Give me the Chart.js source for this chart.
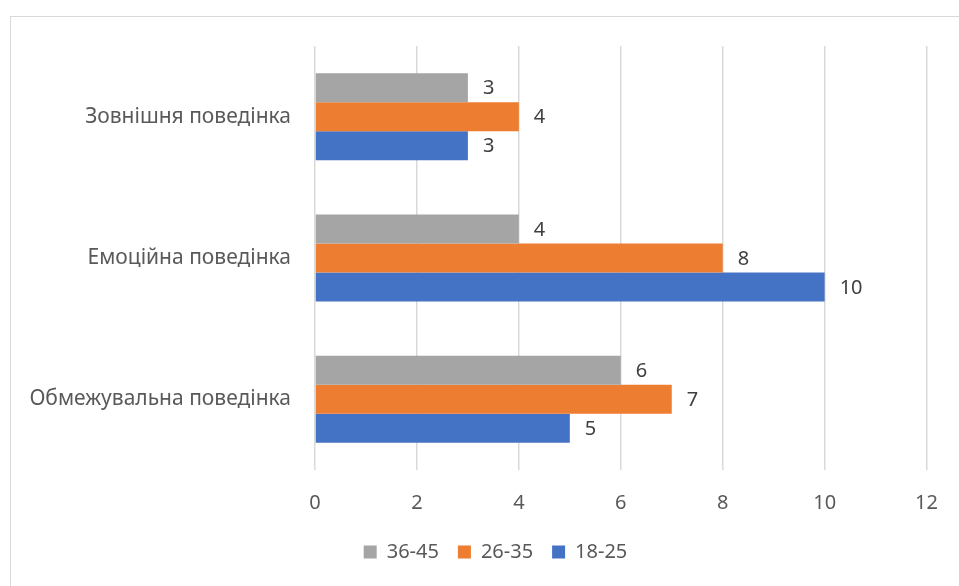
<!DOCTYPE html>
<html>
<head>
<meta charset="utf-8">
<script src="https://cdn.jsdelivr.net/npm/chart.js@4.4.0/dist/chart.umd.min.js"></script>
<style>
  html, body { margin: 0; padding: 0; background: #fff; overflow: hidden; }
  #wrap { position: relative; width: 959px; height: 586px; }
  #frame { position: absolute; left: 10px; top: 16px; width: 1000px; height: 600px; border-left: 1px solid #d9d9d9; border-top: 1px solid #d9d9d9; }
  canvas { position: absolute; left: 0; top: 0; }
</style>
</head>
<body>
<div id="wrap">
  <div id="frame"></div>
  <canvas id="c" width="959" height="586"></canvas>
</div>
<script>
const categories = ["Зовнішня поведінка", "Емоційна поведінка", "Обмежувальна поведінка"];
const seriesNames = ["36-45", "26-35", "18-25"];
const values3645 = [3, 4, 6];
const values2635 = [4, 8, 7];
const values1825 = [3, 10, 5];
const xTicks = [0, 2, 4, 6, 8, 10, 12];

const FONT = "'Noto Sans', 'DejaVu Sans', sans-serif";

const dataLabels = {
  id: 'dataLabels',
  afterDatasetsDraw(chart) {
    const ctx = chart.ctx;
    ctx.save();
    ctx.font = "20px " + FONT;
    ctx.fillStyle = "#404040";
    ctx.textAlign = "left";
    ctx.textBaseline = "middle";
    chart.data.datasets.forEach((ds, i) => {
      const meta = chart.getDatasetMeta(i);
      meta.data.forEach((bar, j) => {
        ctx.fillText(String(ds.data[j]), bar.x + 15, bar.y + 1);
      });
    });
    ctx.restore();
  }
};

const legendShift = {
  id: 'legendShift',
  afterLayout(chart) {
    const l = chart.legend;
    if (l) { l.left += 30; l.right += 30; }
  }
};

new Chart(document.getElementById('c'), {
  type: 'bar',
  data: {
    labels: categories,
    datasets: [
      { label: seriesNames[0], data: values3645, backgroundColor: '#A5A5A5' },
      { label: seriesNames[1], data: values2635, backgroundColor: '#ED7D31' },
      { label: seriesNames[2], data: values1825, backgroundColor: '#4472C4' }
    ]
  },
  options: {
    indexAxis: 'y',
    responsive: false,
    animation: false,
    devicePixelRatio: 1,
    layout: { padding: { left: 0, right: 28, top: 46, bottom: 14 } },
    datasets: { bar: { categoryPercentage: 0.615, barPercentage: 1.0 } },
    plugins: {
      tooltip: { enabled: false },
      legend: {
        position: 'bottom',
        labels: {
          boxWidth: 13, boxHeight: 13, padding: 19,
          color: '#595959',
          font: { family: FONT, size: 20 }
        }
      }
    },
    scales: {
      x: {
        min: 0, max: 12,
        afterBuildTicks(scale) { scale.ticks = xTicks.map(v => ({ value: v })); },
        grid: { color: '#d9d9d9', lineWidth: 1.5, drawTicks: false },
        border: { display: false },
        ticks: { color: '#595959', font: { family: FONT, size: 20 }, padding: 21 },
        afterFit(scale) { scale.height = 53; }
      },
      y: {
        grid: { display: false },
        border: { display: false },
        ticks: { color: '#595959', font: { family: FONT, size: 21 }, padding: 16 },
        afterFit(scale) { scale.width = 315; }
      }
    }
  },
  plugins: [dataLabels, legendShift]
});
</script>
</body>
</html>
